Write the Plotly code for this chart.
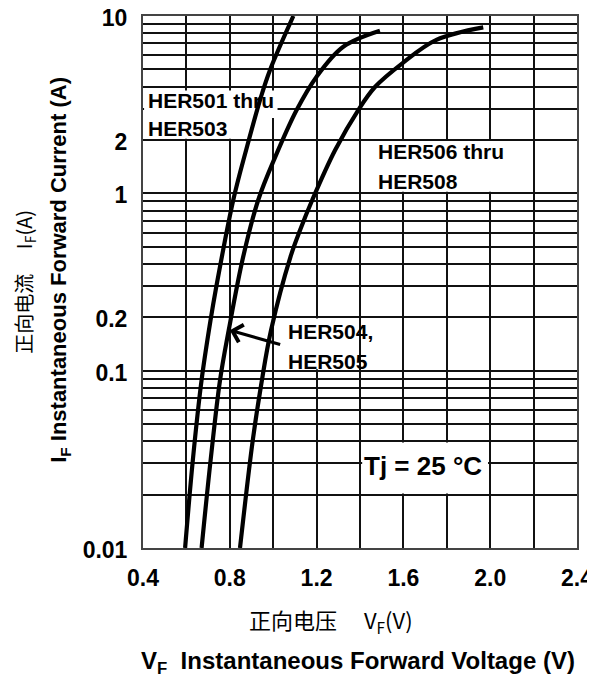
import plotly.graph_objects as go
import math

# ---------------- data ----------------
x_tick_vals = [0.4, 0.8, 1.2, 1.6, 2.0, 2.4]
x_tick_labels = ["0.4", "0.8", "1.2", "1.6", "2.0", "2.4"]

y_label_vals = [0.01, 0.1, 0.2, 1, 2, 10]
y_label_text = ["0.01", "0.1", "0.2", "1", "2", "10"]

her501_v = [0.594, 0.630, 0.670, 0.712, 0.735, 0.816, 0.875, 0.944, 0.985, 1.093]
her501_i = [0.01, 0.0316, 0.0885, 0.195, 0.285, 0.917, 1.75, 3.51, 4.95, 10.0]

her504_v = [0.670, 0.712, 0.755, 0.795, 0.862, 0.931, 1.010, 1.108, 1.200, 1.323, 1.492]
her504_i = [0.01, 0.0316, 0.0885, 0.169, 0.44, 0.917, 1.61, 2.95, 4.55, 6.71, 8.26]

her506_v = [0.847, 0.906, 0.948, 0.990, 1.080, 1.124, 1.180, 1.285, 1.392, 1.470, 1.595, 1.752, 1.968]
her506_i = [0.01, 0.0406, 0.0885, 0.169, 0.44, 0.621, 0.917, 1.75, 2.95, 3.99, 5.41, 7.33, 8.63]

# log-paper grid values (1..9 per decade)
y_grid_vals = []
for k in (-2, -1, 0):
    for m in range(1, 10):
        y_grid_vals.append(round(m * 10 ** k, 6))
y_grid_vals.append(10)
y_grid_text = []
for v in y_grid_vals:
    txt = ""
    for lv, lt in zip(y_label_vals, y_label_text):
        if abs(v - lv) < 1e-9:
            txt = lt
    y_grid_text.append(txt)

BOLD = "Liberation Sans"
CJK = "Noto Sans CJK SC"

fig = go.Figure()
for v, i in [(her501_v, her501_i), (her504_v, her504_i), (her506_v, her506_i)]:
    fig.add_trace(go.Scatter(x=v, y=i, mode="lines",
                             line=dict(color="black", width=4.2, shape="spline", smoothing=1.0),
                             showlegend=False, hoverinfo="skip"))

grid_c = "#111111"
fig.update_xaxes(range=[0.4, 2.4], tickvals=x_tick_vals, ticktext=x_tick_labels,
                 showgrid=True, gridcolor=grid_c, gridwidth=1.7,
                 minor=dict(tick0=0.4, dtick=0.2, showgrid=True, gridcolor=grid_c, gridwidth=1.7),
                 showline=True, linecolor="#444444", linewidth=2, mirror=True,
                 zeroline=False, ticks="", automargin=False, ticklabeloverflow="allow",
                 tickfont=dict(family=BOLD, size=23, color="black", weight="bold"),
                 ticklabelstandoff=8)
fig.update_yaxes(type="log", range=[-2, 1], tickvals=y_grid_vals, ticktext=y_grid_text,
                 showgrid=True, gridcolor=grid_c, gridwidth=1.7,
                 showline=True, linecolor="#444444", linewidth=2, mirror=True,
                 zeroline=False, ticks="", automargin=False, ticklabeloverflow="allow",
                 tickfont=dict(family=BOLD, size=23, color="black", weight="bold"),
                 ticklabelstandoff=9, ticklabelshift=2)

# white masks behind the labels (between grid and traces)
masks = [
    (0.405, 1.02, 2.66, 3.8),
    (0.405, 0.99, 2.03, 2.66),
    (1.41, 2.19, 1.02, 1.97),
    (1.01, 1.39, 0.102, 0.197),
    (1.41, 1.99, 0.0203, 0.0394),
]
for x0, x1, y0, y1 in masks:
    fig.add_shape(type="rect", xref="x", yref="y", x0=x0, x1=x1, y0=y0, y1=y1,
                  fillcolor="white", line=dict(width=0), layer="between")

lab_font = dict(family=BOLD, size=21, color="black", weight="bold")
labels = [
    ("HER501 thru", 0.412, 0.526),
    ("HER503", 0.412, 0.368),
    ("HER506 thru", 1.472, 0.235),
    ("HER508", 1.472, 0.0656),
    ("HER504,", 1.058, -0.780),
    ("HER505", 1.058, -0.949),
]
for t, x, y in labels:
    fig.add_annotation(x=x, y=y, xref="x", yref="y", text=t, showarrow=False,
                       xanchor="left", yanchor="middle", font=lab_font)

fig.add_annotation(x=1.69, y=math.log10(0.029), xref="x", yref="y", text="Tj = 25 °C",
                   showarrow=False, font=dict(family=BOLD, size=26, color="black", weight="bold"))

# arrow pointing to HER504/505 curve
fig.add_annotation(x=0.80, y=math.log10(0.169), ax=1.039, ay=math.log10(0.1396),
                   xref="x", yref="y", axref="x", ayref="y", text="",
                   showarrow=True, arrowhead=4, arrowsize=1.1, arrowwidth=3.2, arrowcolor="black")

# axis titles
title_kw = dict(xref="paper", yref="paper", showarrow=False, xanchor="center", yanchor="middle")
fig.add_annotation(x=0.433, y=-0.137, text="正向电压　 V<sub>F</sub>(V)",
                   font=dict(family=CJK, size=22, color="black"), **title_kw)
fig.add_annotation(x=0.495, y=-0.216, text="V<sub>F</sub>  Instantaneous Forward Voltage (V)",
                   font=dict(family=BOLD, size=24, color="black", weight="bold"), **title_kw)
fig.add_annotation(x=-0.275, y=0.5, textangle=-90, text="正向电流　 I<sub>F</sub>(A)",
                   font=dict(family=CJK, size=20, color="black"), **title_kw)
fig.add_annotation(x=-0.191, y=0.523, textangle=-90,
                   text="I<sub>F</sub> Instantaneous Forward Current (A)",
                   font=dict(family=BOLD, size=22, color="black", weight="bold"), **title_kw)

# page body has an 8px margin: compensate so the plot frame sits at x 143-577, y 16-548
fig.update_layout(width=587, height=669, margin=dict(l=135, r=18, t=8, b=129),
                  plot_bgcolor="white", paper_bgcolor="white", showlegend=False)

fig.write_html("out.html")
